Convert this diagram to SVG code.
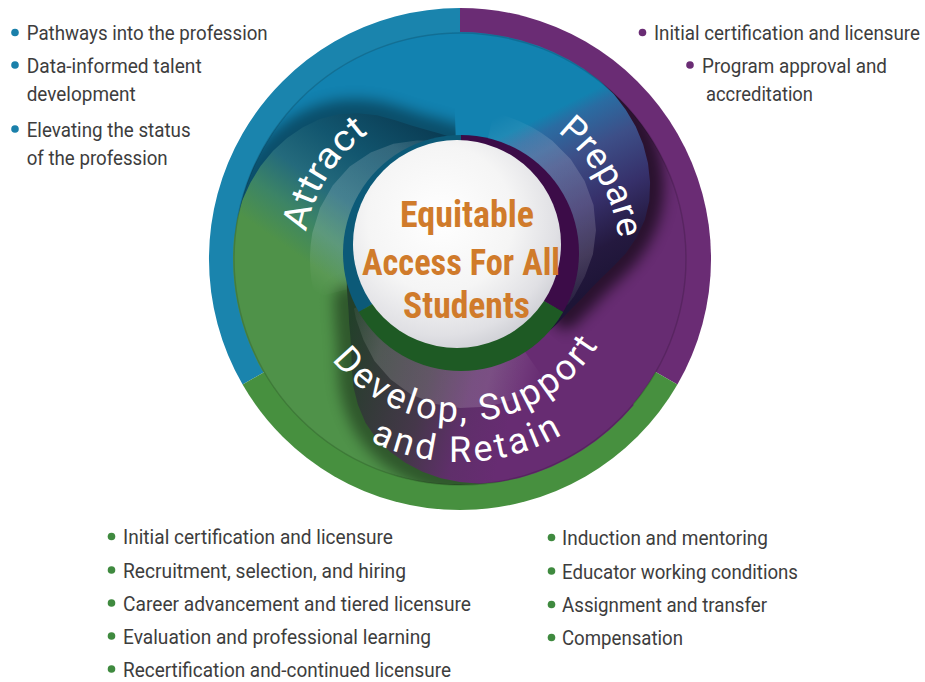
<svg xmlns="http://www.w3.org/2000/svg" width="925" height="682" viewBox="0 0 925 682">
<defs>
<style>
.list{font-family:"Roboto","Liberation Sans",sans-serif;font-size:21px;fill:#3d3d3d}
.armtxt{font-family:"Roboto","Liberation Sans",sans-serif;fill:#ffffff}
.hubtxt{font-family:"Roboto Condensed","Roboto","Liberation Sans",sans-serif;font-weight:700;font-size:36px;fill:#d07b2b;text-anchor:middle}
.shadow{fill:none;stroke:#000;stroke-width:28;stroke-linejoin:round;stroke-linecap:round}
.strip{fill:url(#gStrip)}
.bA{fill:#1a84ad}.bP{fill:#6a2c74}.bD{fill:#47903f}
</style>
<clipPath id="clipIn"><circle cx="460" cy="259" r="226"/></clipPath>
<filter id="blur" x="-50%" y="-50%" width="200%" height="200%"><feGaussianBlur stdDeviation="7"/></filter>
<linearGradient id="gGreen" gradientUnits="userSpaceOnUse" x1="408.3" y1="332.7" x2="511.7" y2="185.3">
<stop offset="0" stop-color="#4f9249"/><stop offset="0.2" stop-color="#3c8466"/><stop offset="0.4" stop-color="#246a7c"/><stop offset="0.65" stop-color="#12566f"/><stop offset="1" stop-color="#0a3d55"/>
</linearGradient>
<linearGradient id="gBlue" gradientUnits="userSpaceOnUse" x1="408.3" y1="332.7" x2="511.7" y2="185.3">
<stop offset="0" stop-color="#1282b0"/><stop offset="0.08" stop-color="#2a6ca2"/><stop offset="0.28" stop-color="#3d4f88"/><stop offset="0.55" stop-color="#36306a"/><stop offset="0.8" stop-color="#24193f"/><stop offset="1" stop-color="#1d1436"/>
</linearGradient>
<linearGradient id="gPurple" gradientUnits="userSpaceOnUse" x1="408.3" y1="332.7" x2="511.7" y2="185.3">
<stop offset="0" stop-color="#672c72"/><stop offset="0.25" stop-color="#5f2f6a"/><stop offset="0.5" stop-color="#45374a"/><stop offset="0.75" stop-color="#353a3a"/><stop offset="1" stop-color="#23402a"/>
</linearGradient>
<linearGradient id="gStrip" gradientUnits="userSpaceOnUse" x1="396.9" y1="349.1" x2="514.5" y2="181.2">
<stop offset="0" stop-color="#fff" stop-opacity="0"/><stop offset="0.25" stop-color="#fff" stop-opacity="0.16"/><stop offset="0.8" stop-color="#fff" stop-opacity="0.15"/><stop offset="1" stop-color="#fff" stop-opacity="0.04"/>
</linearGradient>
<radialGradient id="gHub" cx="0.42" cy="0.38" r="0.7">
<stop offset="0" stop-color="#ffffff"/><stop offset="0.5" stop-color="#f5f5f5"/><stop offset="0.8" stop-color="#e0e0e4"/><stop offset="1" stop-color="#c6c7ce"/>
</radialGradient>
<path id="tail" d="M263.4,372.5 A227,227 0 0 1 233.9,239.2 L236.9,219.7 L242.2,200.6 L250.4,182.7 L260.6,166 L272.9,151 L287.1,138 L303,127.2 L320,119 L338.5,114.2 L357.9,113.2 L377,115.2 L395.3,120.3 L411.4,125.6 L425.3,129.6 L437.8,132.9 L449.3,136.5 L460,139.5 L470.2,142.4 L480,145.7 L478.8,152.6 A108,108 0 0 0 366.5,313 Z"/>
<path id="tailEdge" d="M242.2,200.6 L250.4,182.7 L260.6,166 L272.9,151 L287.1,138 L303,127.2 L320,119 L338.5,114.2 L357.9,113.2 L377,115.2 L395.3,120.3 L411.4,125.6 L425.3,129.6 L437.8,132.9 L449.3,136.5 L460,139.5"/>
<path id="strip" d="M315.1,297.8 A150,150 0 0 1 312.3,233 L320,208 L332.7,185.5 L349.7,166.4 L370.7,152.5 L393.5,143.8 L416.9,140.6 L439.2,140.8 L449.8,142.4 L450.6,151.4 A108,108 0 0 0 355.7,287 Z"/>
<path id="pAttract" d="M304.1,253.6 A156,156 0 0 1 386.8,121.3"/>
<path id="pPrepare" d="M540,120.4 A160,160 0 0 1 620,259"/>
<path id="pDevelop" d="M318.8,340.5 A163,163 0 0 0 608.9,325.3"/>
<path id="pRetain" d="M304.5,389.5 A203,203 0 0 0 624.2,378.3"/>
</defs>

<g id="wheel">
  <g id="outer-ring">
    <path class="bA" d="M460,259 L242.6,384.5 A251,251 0 0 1 460,8 Z"/>
    <path class="bP" d="M460,259 L460,8 A251,251 0 0 1 677.4,384.5 Z"/>
    <path class="bD" d="M460,259 L677.4,384.5 A251,251 0 0 1 242.6,384.5 Z"/>
  </g>
  <g id="bodies">
    <path fill="#4f9249" d="M460,259 L566.1,458.5 A226,226 0 0 1 234.9,278.7 Z"/>
    <path fill="#1282b0" d="M460,259 L234.9,278.7 A226,226 0 0 1 537.3,46.6 Z"/>
    <path fill="#672c72" d="M460,259 L537.3,46.6 A226,226 0 0 1 566.1,458.5 Z"/>
  </g>
  <g id="arm-attract">
    <g clip-path="url(#clipIn)"><use href="#tailEdge" class="shadow" filter="url(#blur)" opacity="0.4"/></g>
    <use href="#tail" fill="url(#gGreen)"/>
    <use href="#strip" class="strip"/>
  </g>
  <g id="arm-prepare" transform="rotate(118 460 259)">
    <g clip-path="url(#clipIn)"><use href="#tailEdge" class="shadow" filter="url(#blur)" opacity="0.6"/></g>
    <use href="#tail" fill="url(#gBlue)"/>
    <use href="#strip" class="strip"/>
  </g>
  <g id="arm-develop" transform="rotate(250 460 259)">
    <g clip-path="url(#clipIn)"><use href="#tailEdge" class="shadow" filter="url(#blur)" opacity="0.4"/></g>
    <use href="#tail" fill="url(#gPurple)"/>
    <use href="#strip" class="strip"/>
  </g>
  <circle cx="460" cy="259" r="226" fill="none" stroke="#000" stroke-opacity="0.15" stroke-width="1.5"/>
</g>

<g id="hub">
  <path fill="#0c5a78" d="M461,253 L358.8,312 A118,118 0 0 1 461,135 Z"/>
  <path fill="#3c0c48" d="M461,253 L461,135 A118,118 0 0 1 563.2,312 Z"/>
  <path fill="#1e5a24" d="M461,253 L563.2,312 A118,118 0 0 1 358.8,312 Z"/>
  <circle cx="457" cy="244" r="104" fill="url(#gHub)"/>
  <text class="hubtxt" x="467" y="227" textLength="134" lengthAdjust="spacingAndGlyphs">Equitable</text>
  <text class="hubtxt" x="461" y="275" textLength="198" lengthAdjust="spacingAndGlyphs">Access For All</text>
  <text class="hubtxt" x="466.5" y="318" textLength="127" lengthAdjust="spacingAndGlyphs">Students</text>
</g>

<g id="label-attract"><text class="armtxt" font-size="36" text-anchor="middle"><textPath href="#pAttract" startOffset="50%" textLength="120" lengthAdjust="spacingAndGlyphs">Attract</textPath></text></g>
<g id="label-prepare"><text class="armtxt" font-size="36" text-anchor="middle"><textPath href="#pPrepare" startOffset="50%" textLength="126" lengthAdjust="spacingAndGlyphs">Prepare</textPath></text></g>
<g id="label-develop">
  <text class="armtxt" font-size="36" text-anchor="middle"><textPath href="#pDevelop" startOffset="50%" textLength="312" lengthAdjust="spacing">Develop, Support</textPath></text>
  <text class="armtxt" font-size="36" text-anchor="middle"><textPath href="#pRetain" startOffset="50%" textLength="200" lengthAdjust="spacing">and Retain</textPath></text>
</g>

<g id="list-attract">
  <circle cx="15" cy="32.5" r="3.8" fill="#1a80aa"/>
  <circle cx="15" cy="65" r="3.8" fill="#1a80aa"/>
  <circle cx="15" cy="129" r="3.8" fill="#1a80aa"/>
  <text class="list" x="26.7" y="40" textLength="241" lengthAdjust="spacingAndGlyphs">Pathways into the profession</text>
  <text class="list" x="26.7" y="72.5" textLength="175" lengthAdjust="spacingAndGlyphs">Data-informed talent</text>
  <text class="list" x="26.7" y="100.5" textLength="109" lengthAdjust="spacingAndGlyphs">development</text>
  <text class="list" x="26.7" y="136.5" textLength="164" lengthAdjust="spacingAndGlyphs">Elevating the status</text>
  <text class="list" x="26.7" y="164.5" textLength="141" lengthAdjust="spacingAndGlyphs">of the profession</text>
</g>

<g id="list-prepare">
  <circle cx="642.5" cy="32.5" r="3.8" fill="#6a2c74"/>
  <circle cx="690" cy="65" r="3.8" fill="#6a2c74"/>
  <text class="list" x="654" y="40" textLength="266" lengthAdjust="spacingAndGlyphs">Initial certification and licensure</text>
  <text class="list" x="702" y="72.5" textLength="185" lengthAdjust="spacingAndGlyphs">Program approval and</text>
  <text class="list" x="706" y="101" textLength="107" lengthAdjust="spacingAndGlyphs">accreditation</text>
</g>

<g id="list-develop-left">
  <circle cx="111.5" cy="536.5" r="3.8" fill="#3f8a3f"/>
  <circle cx="111.5" cy="570" r="3.8" fill="#3f8a3f"/>
  <circle cx="111.5" cy="603" r="3.8" fill="#3f8a3f"/>
  <circle cx="111.5" cy="636" r="3.8" fill="#3f8a3f"/>
  <circle cx="111.5" cy="669" r="3.8" fill="#3f8a3f"/>
  <text class="list" x="123" y="544" textLength="270" lengthAdjust="spacingAndGlyphs">Initial certification and licensure</text>
  <text class="list" x="123" y="577.5" textLength="283" lengthAdjust="spacingAndGlyphs">Recruitment, selection, and hiring</text>
  <text class="list" x="123" y="610.5" textLength="348" lengthAdjust="spacingAndGlyphs">Career advancement and tiered licensure</text>
  <text class="list" x="123" y="643.5" textLength="308" lengthAdjust="spacingAndGlyphs">Evaluation and professional learning</text>
  <text class="list" x="123" y="676.5" textLength="328" lengthAdjust="spacingAndGlyphs">Recertification and-continued licensure</text>
</g>

<g id="list-develop-right">
  <circle cx="551.5" cy="537.5" r="3.8" fill="#3f8a3f"/>
  <circle cx="551.5" cy="571" r="3.8" fill="#3f8a3f"/>
  <circle cx="551.5" cy="604.5" r="3.8" fill="#3f8a3f"/>
  <circle cx="551.5" cy="637.5" r="3.8" fill="#3f8a3f"/>
  <text class="list" x="562" y="545" textLength="206" lengthAdjust="spacingAndGlyphs">Induction and mentoring</text>
  <text class="list" x="562" y="578.5" textLength="236" lengthAdjust="spacingAndGlyphs">Educator working conditions</text>
  <text class="list" x="562" y="612" textLength="205" lengthAdjust="spacingAndGlyphs">Assignment and transfer</text>
  <text class="list" x="562" y="645" textLength="121" lengthAdjust="spacingAndGlyphs">Compensation</text>
</g>
</svg>
